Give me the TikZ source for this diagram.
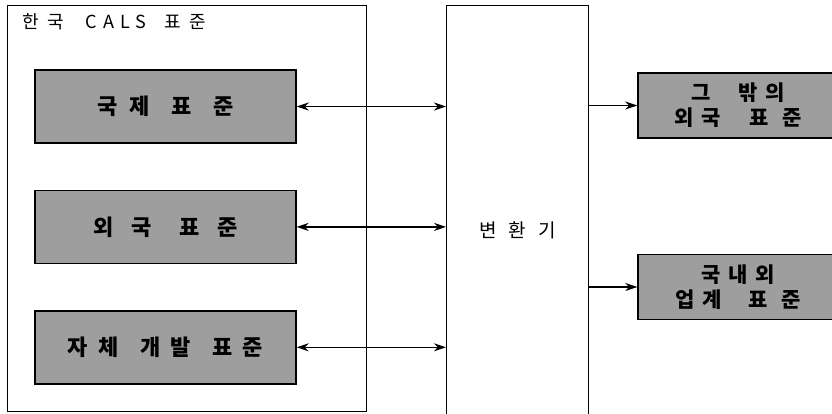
\documentclass[tikz,border=0pt]{standalone}
\usepackage{fontspec}
\newfontfamily\kr{Noto Sans CJK KR}
\usetikzlibrary{positioning, arrows.meta}

\begin{document}
\begin{tikzpicture}[
      x=1pt, y=-1pt,
      node distance=46pt,
      frame/.style={draw, line width=1.2pt, anchor=north west},
      stdbox/.style={draw, line width=1.4pt, fill=black!38, minimum width=261pt, minimum height=73pt, text centered, font=\kr\bfseries\fontsize{22}{24}\selectfont},
      extbox/.style={draw, line width=1.4pt, fill=black!38, minimum width=200pt, minimum height=65pt, align=center, font=\kr\bfseries\fontsize{21}{25}\selectfont},
      arrow/.style={->, line width=1.5pt, >={Stealth[length=12pt, width=8pt]}}
    ]
      \useasboundingbox (0,0) rectangle (832,413);
      \clip (0,0) rectangle (832,413);
      \node[frame, minimum width=359pt, minimum height=406pt] (kcals) at (7,5) {};
      \node[anchor=west, font=\kr\fontsize{18}{20}\selectfont] (title) at (19,22) {한\hspace{8pt}국\hspace{22pt}C\hspace{6pt}A\hspace{6pt}L\hspace{6pt}S\hspace{18pt}표\hspace{8pt}준};
      \node[stdbox] (intl) at (165.5,106.5) {국\hspace{12pt}제\hspace{22pt}표\hspace{22pt}준};
      \node[stdbox, below=of intl] (foreign) {외\hspace{18pt}국\hspace{28pt}표\hspace{18pt}준};
      \node[stdbox, below=of foreign] (own) {자\hspace{10pt}체\hspace{22pt}개\hspace{10pt}발\hspace{22pt}표\hspace{10pt}준};
      \node[frame, minimum width=142pt, minimum height=450pt, font=\kr\fontsize{19}{21}\selectfont] (conv) at (446,5) {변\hspace{12pt}환\hspace{12pt}기};
      \node[extbox] (other) at (738,105.5) {그\hspace{28pt}밖\hspace{8pt}의\\외\hspace{8pt}국\hspace{28pt}표\hspace{14pt}준};
      \node[extbox] (industry) at (738,287) {국\hspace{8pt}내\hspace{8pt}외\\업\hspace{8pt}계\hspace{26pt}표\hspace{14pt}준};

      \draw[arrow, <->] (intl.east) -- (intl.east -| conv.west);
      \draw[arrow, <->] (foreign.east) -- (foreign.east -| conv.west);
      \draw[arrow, <->] (own.east) -- (own.east -| conv.west);
      \draw[arrow] (conv.east |- other.west) -- (other.west);
      \draw[arrow] (conv.east |- industry.west) -- (industry.west);
    \end{tikzpicture}
\end{document}
